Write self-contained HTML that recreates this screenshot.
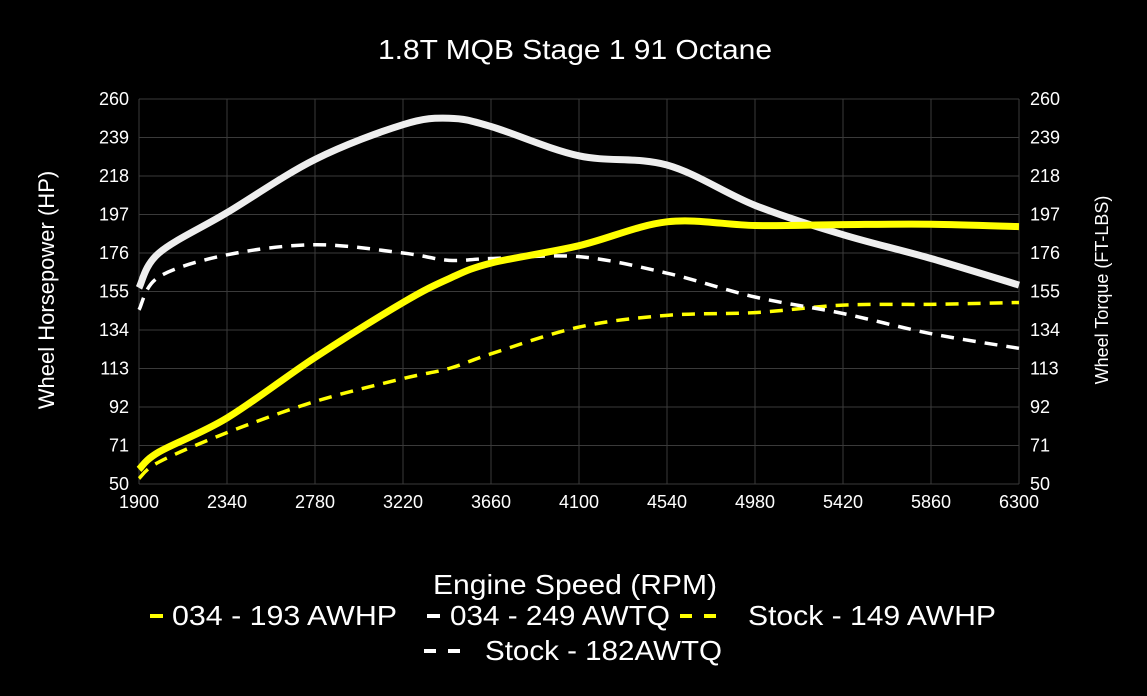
<!DOCTYPE html>
<html><head><meta charset="utf-8"><style>
html,body{margin:0;padding:0;background:#000;}
svg{display:block;font-family:"Liberation Sans",Arial,sans-serif;}
</style></head><body>
<svg id="chart" width="1147" height="696" viewBox="0 0 1147 696">
<rect x="0" y="0" width="1147" height="696" fill="#000"/>
<text x="575" y="59" fill="#fff" font-size="28" text-anchor="middle" textLength="394" lengthAdjust="spacingAndGlyphs">1.8T MQB Stage 1 91 Octane</text>
<g id="grid"></g>
<g id="ticks"></g>
<g id="series"></g>
<text transform="translate(54,290) rotate(-90)" fill="#fff" font-size="22" text-anchor="middle">Wheel Horsepower (HP)</text>
<text transform="translate(1108,290) rotate(-90)" fill="#fff" font-size="18" text-anchor="middle">Wheel Torque (FT-LBS)</text>
<text x="575" y="594" fill="#fff" font-size="28" text-anchor="middle" textLength="284" lengthAdjust="spacingAndGlyphs">Engine Speed (RPM)</text>
<g>
  <g>
    <line x1="150" y1="616" x2="163" y2="616" stroke="#ffff00" stroke-width="4"/>
    <text x="172" y="625" fill="#fff" font-size="28" textLength="225" lengthAdjust="spacingAndGlyphs">034 - 193 AWHP</text>
  </g>
  <g>
    <line x1="427" y1="616" x2="440" y2="616" stroke="#fff" stroke-width="4"/>
    <text x="450" y="625" fill="#fff" font-size="28" textLength="220" lengthAdjust="spacingAndGlyphs">034 - 249 AWTQ</text>
  </g>
  <g>
    <line x1="680" y1="616" x2="720" y2="616" stroke="#ffff00" stroke-width="4" stroke-dasharray="12,12"/>
    <text x="748" y="625" fill="#fff" font-size="28" textLength="248" lengthAdjust="spacingAndGlyphs">Stock - 149 AWHP</text>
  </g>
  <g>
    <line x1="424" y1="651" x2="460" y2="651" stroke="#fff" stroke-width="4" stroke-dasharray="12,12"/>
    <text x="485" y="660" fill="#fff" font-size="28" textLength="237" lengthAdjust="spacingAndGlyphs">Stock - 182AWTQ</text>
  </g>
</g>
</svg>
<script>
const rpm = [1900,2000,2340,2780,3220,3450,3660,4100,4540,4980,5420,5860,6300];
const tq034 = [157,176,198,227,246,249.5,245,229,224,202,186,173,158.5];
const hp034 = [58,67.5,86,119,149,162,170.5,180,193,191,191.5,191.7,190.4];
const tqStock = [145,163,175,180.5,176,172,173,174,165,152,143,132,124];
const hpStock = [53,62,78,95,107.5,113,121,135.6,142,143.5,147.6,148,149];
const xTicks = [1900,2340,2780,3220,3660,4100,4540,4980,5420,5860,6300];
const yTicks = [50,71,92,113,134,155,176,197,218,239,260];

const X0=139, X1=1019, Y0=484, Y1=99;
function xs(v){return X0+(v-1900)/(6300-1900)*(X1-X0);}
function ys(v){return Y0-(v-50)/(260-50)*(Y0-Y1);}
const NS="http://www.w3.org/2000/svg";
const grid=document.getElementById('grid'), ticks=document.getElementById('ticks'), series=document.getElementById('series');
function mk(tag,attrs,parent){const e=document.createElementNS(NS,tag);for(const k in attrs)e.setAttribute(k,attrs[k]);parent.appendChild(e);return e;}

xTicks.forEach(t=>{
  const l=mk('line',{x1:xs(t),x2:xs(t),y1:Y1,y2:Y0,stroke:'#3a3a3a','stroke-width':1},grid);
  
  
  const tx=mk('text',{x:xs(t),y:Y0+24,fill:'#fff','font-size':18,'text-anchor':'middle'},ticks);
  tx.textContent=t;
  
  
});
yTicks.forEach(t=>{
  const l=mk('line',{x1:X0,x2:X1,y1:ys(t),y2:ys(t),stroke:'#3a3a3a','stroke-width':1},grid);
  
  
  const a=mk('text',{x:X0-10,y:ys(t)+6,fill:'#fff','font-size':18,'text-anchor':'end'},ticks);
  a.textContent=t;
  
  
  const b=mk('text',{x:X1+11,y:ys(t)+6,fill:'#fff','font-size':18,'text-anchor':'start'},ticks);
  b.textContent=t;
  
  
});

function pathFor(vals){
  const p=rpm.map((r,i)=>[xs(r),ys(vals[i])]);
  let d='M'+p[0][0]+','+p[0][1];
  for(let i=0;i<p.length-1;i++){
    const p0=p[i-1]||p[i],p1=p[i],p2=p[i+1],p3=p[i+2]||p2;
    const c1=[p1[0]+(p2[0]-p0[0])/6,p1[1]+(p2[1]-p0[1])/6];
    const c2=[p2[0]-(p3[0]-p1[0])/6,p2[1]-(p3[1]-p1[1])/6];
    d+=' C'+c1+' '+c2+' '+p2;
  }
  return d;
}
function draw(vals,color,width,dash,name){
  const e=mk('path',{d:pathFor(vals),fill:'none',stroke:color,'stroke-width':width,'stroke-linejoin':'round'},series);
  if(dash)e.setAttribute('stroke-dasharray',dash);
  
  
}
draw(hpStock,'#ffff00',3.5,'13,9','line-stock-hp');
draw(tqStock,'#ffffff',3.5,'13,9','line-stock-tq');
draw(tq034,'#eeeeee',7,null,'line-034-tq');
draw(hp034,'#ffff00',7,null,'line-034-hp');
</script>
</body></html>
